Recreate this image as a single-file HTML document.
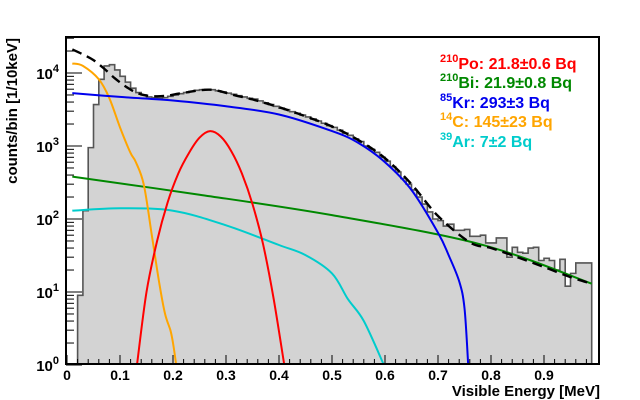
<!DOCTYPE html>
<html><head><meta charset="utf-8"><style>
html,body{margin:0;padding:0;background:#fff;}
svg{display:block;font-family:"Liberation Sans",Arial,sans-serif;}
</style></head><body>
<svg id="chart" width="640" height="400" viewBox="0 0 640 400" xmlns="http://www.w3.org/2000/svg">
<defs><clipPath id="clip"><rect x="66" y="37" width="533" height="327"/></clipPath></defs>
<g id="plot" clip-path="url(#clip)"></g>
<g id="axes"></g>
<g font-weight="bold" font-size="16">
<text x="440" y="69" fill="#ff0000"><tspan font-size="11" dy="-7">210</tspan><tspan dy="7">Po: 21.8±0.6 Bq</tspan></text>
<text x="440" y="88" fill="#008800"><tspan font-size="11" dy="-7">210</tspan><tspan dy="7">Bi: 21.9±0.8 Bq</tspan></text>
<text x="440" y="108" fill="#0000ee"><tspan font-size="11" dy="-7">85</tspan><tspan dy="7">Kr: 293±3 Bq</tspan></text>
<text x="440" y="127" fill="#ffa500"><tspan font-size="11" dy="-7">14</tspan><tspan dy="7">C: 145±23 Bq</tspan></text>
<text x="440" y="147" fill="#00cccc"><tspan font-size="11" dy="-7">39</tspan><tspan dy="7">Ar: 7±2 Bq</tspan></text>
</g>
<text x="600" y="396" text-anchor="end" font-size="15" font-weight="bold">Visible Energy [MeV]</text>
<text transform="translate(17,38) rotate(-90)" text-anchor="end" font-size="15" font-weight="bold">counts/bin [1/10keV]</text>
</svg>
<script>
// histogram: bin low edges (MeV) and counts
const binStart = 0.02;
const binWidth = 0.01;
const histCounts = [9,130,950,3700,8200,12500,13000,11000,9000,7500,6200,5400,5000,4700,4600,4500,4600,4800,5000,5200,5400,5600,5800,5900,5950,5900,5700,5500,5300,5100,4900,4700,4500,4400,4150,3900,3700,3500,3300,3150,2950,2800,2650,2500,2350,2200,2050,1900,1800,1650,1500,1400,1250,1150,1000,900,820,700,620,520,440,360,300,250,200,160,125,100,95,80,85,70,70,72,58,58,60,47,47,55,55,30,41,35,34,40,41,27,29,27,20,28,12,18,25,25,25];
// fit curves: energies and values
const totE = [0.01,0.03,0.05,0.07,0.09,0.11,0.13,0.15,0.17,0.19,0.21,0.23,0.25,0.27,0.29,0.31,0.33,0.35,0.40,0.45,0.50,0.55,0.60,0.65,0.70,0.76,0.80,0.85,0.90,0.95,0.99];
const totV = [21000,18000,15000,11500,8500,6600,5400,4900,4800,4900,5200,5500,5800,5900,5600,5100,4700,4350,3400,2550,1850,1200,680,300,110,48,40,30,22,16,13];
const krE = [0.01,0.1,0.2,0.3,0.4,0.5,0.55,0.6,0.65,0.7,0.72,0.74,0.75,0.757];
const krV = [5300,4700,4200,3500,2700,1600,1100,600,250,65,32,14,6,1];
const biE = [0.01,0.25,0.5,0.78,0.99];
const biV = [380,215,113,45,13];
const poE = [0.132,0.15,0.17,0.19,0.21,0.23,0.25,0.27,0.29,0.31,0.33,0.35,0.37,0.39,0.41];
const poV = [1,10,50,170,420,800,1300,1600,1350,850,420,160,45,8,1];
const cE = [0.01,0.03,0.06,0.08,0.10,0.12,0.13,0.145,0.16,0.175,0.185,0.195,0.2,0.206];
const cV = [13500,12500,8200,4500,1800,800,600,295,60,12,5,3,2,1];
const arE = [0.01,0.1,0.2,0.3,0.4,0.45,0.5,0.53,0.56,0.598];
const arV = [130,140,130,82,44,32,18,8,4,1];
const xTicks = [0,0.1,0.2,0.3,0.4,0.5,0.6,0.7,0.8,0.9];
const yTickExp = [0,1,2,3,4];

const NS='http://www.w3.org/2000/svg';
const X = e => 67 + 530*e;
const Y = v => 365 - 73*Math.log10(Math.max(v,0.3));
const plot=document.getElementById('plot'), axes=document.getElementById('axes');
function mk(tag, attrs, parent){const el=document.createElementNS(NS,tag);for(const k in attrs)el.setAttribute(k,attrs[k]);parent.appendChild(el);return el;}

// histogram
let d='M'+X(binStart)+' 400';
histCounts.forEach((c,i)=>{const x0=X(binStart+i*binWidth),x1=X(binStart+(i+1)*binWidth);d+=' L'+x0+' '+Y(c)+' L'+x1+' '+Y(c);});
d+=' L'+X(binStart+histCounts.length*binWidth)+' 400 Z';
const hist=mk('path',{d:d,fill:'#d3d3d3',stroke:'#555','stroke-width':1.6},plot);



function smooth(E,V){
  const p=E.map((e,i)=>[X(e),Y(V[i])]);
  let s='M'+p[0][0]+' '+p[0][1];
  for(let i=0;i<p.length-1;i++){
    const p0=p[i-1]||p[i],p1=p[i],p2=p[i+1],p3=p[i+2]||p2;
    const c1=[p1[0]+(p2[0]-p0[0])/6,p1[1]+(p2[1]-p0[1])/6];
    const c2=[p2[0]-(p3[0]-p1[0])/6,p2[1]-(p3[1]-p1[1])/6];
    s+=' C'+c1[0].toFixed(1)+' '+c1[1].toFixed(1)+' '+c2[0].toFixed(1)+' '+c2[1].toFixed(1)+' '+p2[0].toFixed(1)+' '+p2[1].toFixed(1);
  }
  return s;
}
function curve(E,V,color,name,dash){
  const a={d:smooth(E,V),fill:'none',stroke:color,'stroke-width':2};
  if(dash){a['stroke-dasharray']=dash;a['stroke-width']=2.4;}
  const el=mk('path',a,plot);
  
  
}
curve(biE,biV,'#008800','bi210-curve');
curve(arE,arV,'#00cccc','ar39-curve');
curve(cE,cV,'#ffa500','c14-curve');
curve(poE,poV,'#ff0000','po210-curve');
curve(krE,krV,'#0000ee','kr85-curve');
curve(totE,totV,'#000','total-fit-curve','10,6');

// frame
const fr=mk('rect',{x:66,y:37,width:533,height:327,fill:'none',stroke:'#000','stroke-width':2},axes);



// x ticks
for(let k=0;k<50;k++){
  const e=k*0.02, major=(k%5===0);
  const t=mk('line',{x1:X(e),x2:X(e),y1:364,y2:major?355:359,stroke:'#000','stroke-width':1},axes);
  
  
}
xTicks.forEach(e=>{
  const t=mk('text',{x:X(e),y:380,'text-anchor':'middle','font-size':14,'font-weight':'bold'},axes);
  t.textContent=(e===0?'0':e.toFixed(1));
  
  
});
// y ticks
for(let p=0;p<5;p++){
  for(let m=1;m<10;m++){
    const v=m*Math.pow(10,p), y=Y(v);
    if(y<37) continue;
    const t=mk('line',{x1:66,x2:m===1?82:74,y1:y,y2:y,stroke:'#000','stroke-width':1},axes);
    
    
  }
}
yTickExp.forEach(p=>{
  const t=mk('text',{x:59,y:Y(Math.pow(10,p))+6,'text-anchor':'end','font-size':15,'font-weight':'bold'},axes);
  t.innerHTML='10<tspan font-size="11" dy="-7">'+p+'</tspan>';
  
  
});
</script>
</body></html>
